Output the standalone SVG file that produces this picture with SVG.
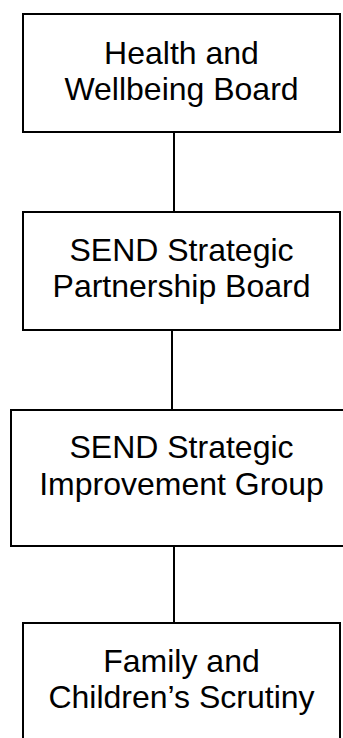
<svg xmlns="http://www.w3.org/2000/svg" width="343" height="738" viewBox="0 0 343 738">
<style>
.box{fill:#fff;stroke:#000;stroke-width:2}
.lbl{font-family:"Liberation Sans",Arial,sans-serif;font-size:32px;fill:#000;text-anchor:middle}
.conn{stroke:#000;stroke-width:2;fill:none}
</style>
<rect width="343" height="738" fill="#fff"/>
<g id="connectors">
<line class="conn" x1="174" y1="132" x2="174" y2="212"/>
<line class="conn" x1="172" y1="330" x2="172" y2="410"/>
<line class="conn" x1="174" y1="546" x2="174" y2="623"/>
</g>
<g id="n1">
<rect class="box" x="23" y="14" width="317" height="118"/>
<text class="lbl" x="181.5" y="64">Health and</text>
<text class="lbl" x="181.5" y="99.5">Wellbeing Board</text>
</g>
<g id="n2">
<rect class="box" x="23" y="212" width="317" height="118"/>
<text class="lbl" x="181.5" y="261">SEND Strategic</text>
<text class="lbl" x="181.5" y="297">Partnership Board</text>
</g>
<g id="n3">
<rect class="box" x="11" y="410" width="340" height="136"/>
<text class="lbl" x="181.5" y="458">SEND Strategic</text>
<text class="lbl" x="181.5" y="495">Improvement Group</text>
</g>
<g id="n4">
<rect class="box" x="23" y="623" width="317" height="130"/>
<text class="lbl" x="181.5" y="672">Family and</text>
<text class="lbl" x="181.5" y="708">Children’s Scrutiny</text>
</g>
</svg>
